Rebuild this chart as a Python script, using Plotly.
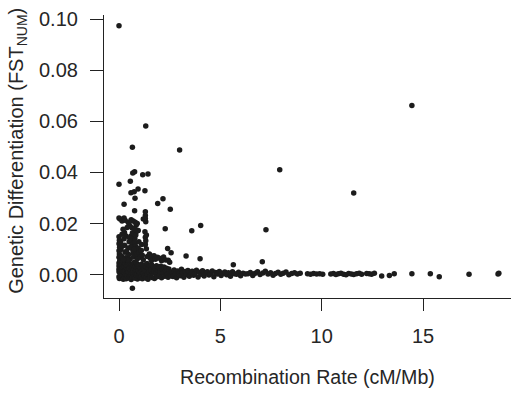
import plotly.graph_objects as go

# ---- data ----
# baseline blob, recombination rate 0 - 1 cM/Mb
base_a_x = [0.00,0.00,0.00,0.00,0.00,0.02,0.03,0.05,0.06,0.08,0.10,0.11,0.12,0.14,0.15,0.17,0.18,0.20,0.21,0.23,
            0.25,0.26,0.28,0.30,0.31,0.33,0.35,0.36,0.38,0.40,0.41,0.43,0.45,0.46,0.48,0.50,0.51,0.53,0.55,0.56,
            0.58,0.60,0.61,0.63,0.65,0.66,0.68,0.70,0.71,0.73,0.75,0.76,0.78,0.80,0.81,0.83,0.85,0.86,0.88,0.90,
            0.91,0.93,0.95,0.96,0.98,1.00,1.02,1.04]
base_a_y = [0.0012,-0.0008,0.0034,0.0046,0.0021,-0.0015,0.0025,0.0041,-0.0003,0.0018,
            0.0007,-0.0012,0.0039,0.0022,0.0004,-0.0006,0.0029,0.0013,-0.0018,0.0049,
            0.0009,0.0031,-0.0010,0.0016,0.0044,0.0002,-0.0016,0.0027,0.0037,0.0006,
            -0.0004,0.0020,0.0047,0.0011,-0.0013,0.0033,0.0024,-0.0007,0.0043,0.0015,
            0.0003,-0.0019,0.0036,0.0028,0.0008,-0.0011,0.0040,0.0017,0.0001,-0.0009,
            0.0048,0.0026,0.0010,-0.0014,0.0035,0.0019,-0.0002,0.0045,0.0030,0.0005,
            -0.0017,0.0023,0.0038,0.0014,-0.0005,0.0032,0.0008,-0.0012]

# baseline blob, 1 - 2.6 cM/Mb
base_b_x = [1.06,1.08,1.10,1.12,1.15,1.17,1.20,1.22,1.25,1.27,1.30,1.32,1.35,1.38,1.40,1.43,1.46,1.48,1.51,1.54,
            1.57,1.60,1.63,1.66,1.69,1.72,1.75,1.78,1.82,1.85,1.88,1.92,1.95,1.99,2.03,2.06,2.10,2.14,2.18,2.22,
            2.26,2.30,2.34,2.38,2.42,2.46,2.50,2.55]
base_b_y = [0.0027,-0.0009,0.0041,0.0013,-0.0016,0.0034,0.0006,0.0022,-0.0004,0.0038,
            0.0017,-0.0013,0.0029,0.0044,0.0003,-0.0018,0.0024,0.0011,0.0036,-0.0007,
            0.0019,0.0040,-0.0011,0.0008,0.0031,0.0015,-0.0015,0.0026,0.0004,0.0035,
            -0.0008,0.0018,0.0028,-0.0003,0.0012,0.0033,-0.0012,0.0021,0.0007,0.0030,
            -0.0006,0.0016,0.0025,0.0002,-0.0010,0.0022,0.0009,-0.0004]

# baseline band, 2.6 - 6.3 cM/Mb
base_c_x = [2.60,2.66,2.72,2.78,2.84,2.90,2.96,3.02,3.08,3.14,3.20,3.26,3.33,3.40,3.47,3.54,3.61,3.68,3.75,3.82,
            3.90,3.97,4.05,4.12,4.20,4.28,4.36,4.44,4.52,4.60,4.68,4.77,4.86,4.95,5.04,5.13,5.22,5.31,5.40,5.50,
            5.60,5.70,5.80,5.90,6.00,6.12,6.24]
base_c_y = [0.0011,-0.0007,0.0019,0.0003,-0.0012,0.0015,0.0006,-0.0004,0.0021,0.0009,
            -0.0010,0.0013,0.0001,0.0017,-0.0006,0.0008,0.0014,-0.0002,0.0005,0.0018,
            -0.0009,0.0010,0.0002,0.0016,-0.0005,0.0007,0.0012,-0.0001,0.0004,0.0015,
            -0.0008,0.0009,0.0003,0.0013,-0.0003,0.0006,0.0011,0.0000,0.0008,-0.0006,
            0.0012,0.0004,0.0002,0.0010,-0.0004,0.0006,0.0003]

# baseline band, 6.3 - 13.6 cM/Mb
base_d_x = [6.36,6.48,6.60,6.72,6.84,6.96,7.10,7.22,7.35,7.48,7.60,7.72,7.85,7.98,8.10,8.24,8.38,8.52,8.66,8.80,
            8.94,9.30,9.45,9.60,9.75,9.90,10.05,10.45,10.58,10.70,10.82,10.95,11.08,11.20,11.33,11.46,11.58,11.72,
            11.85,11.97,12.22,12.34,12.46,12.60,12.96,13.34,13.58]
base_d_y = [0.0004,0.0009,-0.0003,0.0006,0.0012,0.0001,0.0007,0.0014,0.0003,0.0008,
            -0.0002,0.0005,0.0010,0.0002,0.0006,0.0011,0.0000,0.0005,0.0008,0.0003,
            0.0006,0.0004,0.0002,0.0005,0.0003,0.0004,0.0002,0.0003,0.0005,0.0001,
            0.0004,0.0006,0.0002,0.0000,0.0005,0.0003,0.0001,0.0004,0.0006,0.0002,
            0.0005,0.0004,0.0002,0.0006,-0.0005,-0.0003,0.0004]

# sparse high recombination loci
base_e_x = [14.45,15.36,15.80,17.27,18.70,18.74]
base_e_y = [0.0004,0.0004,-0.0008,0.0002,0.0003,0.0006]

# moderately differentiated loci
mid_x = [0.00,0.02,0.00,0.03,0.00,0.02,0.00,0.04,0.08,0.10,0.12,0.25,0.28,0.30,0.33,0.27,0.45,0.50,0.48,0.55,
         0.42,0.60,0.62,0.65,0.68,0.70,0.72,0.66,0.78,0.80,0.82,0.85,0.88,0.90,0.83,0.95,1.00,1.05,0.98,1.10,
         1.15,1.20,1.30,1.32,1.30,1.35,1.40,1.50,1.55,1.60,1.65,1.73,1.80,1.90,2.00,2.10,2.20,2.30,2.43,2.50,
         1.28,1.35,0.35,0.15,0.90,2.40,2.57,3.31,4.00,5.64,7.07,0.18,0.38,0.58,0.75,1.12,0.52,0.22]
mid_y = [0.0149,0.0135,0.0121,0.0108,0.0094,0.0081,0.0068,0.0057,0.0128,0.0099,0.0073,0.0141,0.0115,0.0088,0.0066,0.0165,0.0105,0.0129,0.0079,0.0062,
         0.0058,0.0152,0.0137,0.0118,0.0097,0.0084,0.0069,0.0163,0.0143,0.0126,0.0111,0.0091,0.0075,0.0062,0.0155,0.0104,0.0087,0.0068,0.0129,0.0095,
         0.0076,0.0059,0.0147,0.0133,0.0118,0.0102,0.0071,0.0081,0.0064,0.0056,0.0072,0.0074,0.0061,0.0068,0.0064,0.0055,0.0069,0.0058,0.0057,0.0049,
         0.0168,0.0155,0.0152,0.0158,0.0171,0.0103,0.0086,0.0073,0.0063,0.0039,0.0051,0.0112,0.0093,0.0108,0.0100,0.0118,0.0145,0.0060]

# ~0.02 cluster
c20_x = [0.00,0.05,0.15,0.25,0.30,0.45,0.50,0.55,0.60,0.70,0.80,0.85,0.90,0.40,0.20,0.65,0.85,0.95,1.20,
         1.30,1.30,1.30,1.32,0.77,2.28,3.59,4.03]
c20_y = [0.0222,0.0218,0.0210,0.0222,0.0213,0.0205,0.0196,0.0190,0.0215,0.0210,0.0205,0.0195,0.0200,0.0185,0.0178,0.0183,0.0175,0.0173,0.0218,
         0.0246,0.0232,0.0220,0.0207,0.0179,0.0180,0.0172,0.0193]

# highly differentiated outliers
out_x = [0.00,1.32,0.66,2.99,0.77,0.68,1.17,1.43,0.00,0.56,0.59,0.75,0.94,1.28,0.79,2.17,0.25,1.91,2.53,0.77,
         14.45,7.93,11.58,7.25,0.66]
out_y = [0.0974,0.0582,0.0499,0.0488,0.0403,0.0398,0.0391,0.0394,0.0354,0.0366,0.0321,0.0325,0.0335,0.0329,0.0299,0.0297,0.0276,0.0279,0.0256,0.0250,
         0.0662,0.0411,0.0320,0.0176,-0.0053]

x_ticks = [0, 5, 10, 15]
y_ticks = [0.00, 0.02, 0.04, 0.06, 0.08, 0.10]
y_tick_labels = ["0.00", "0.02", "0.04", "0.06", "0.08", "0.10"]

rec_rate = base_a_x + base_b_x + base_c_x + base_d_x + base_e_x + mid_x + c20_x + out_x
fst_num = base_a_y + base_b_y + base_c_y + base_d_y + base_e_y + mid_y + c20_y + out_y

FONT = "Liberation Sans, Arial, Helvetica, sans-serif"
TXT = "#262626"
AX = "#222222"
FS = 20

fig = go.Figure(go.Scatter(
    x=rec_rate, y=fst_num, mode="markers",
    marker=dict(size=5.5, color="#1c1c1c", line=dict(width=0)),
    hoverinfo="skip", showlegend=False,
))

fig.update_layout(
    width=511, height=394,
    margin=dict(l=104, r=0, t=15, b=96),
    paper_bgcolor="white", plot_bgcolor="white",
    font=dict(family=FONT, color=TXT, size=FS),
    xaxis=dict(range=[-0.74, 19.34], showgrid=False, zeroline=False,
               showline=True, linecolor=AX, linewidth=1.2,
               ticks="outside", ticklen=12, tickwidth=1, tickcolor=AX,
               tickvals=x_ticks, tickfont=dict(size=FS, color=TXT),
               ticklabelstandoff=8),
    yaxis=dict(range=[-0.0091, 0.1016], showgrid=False, zeroline=False,
               showline=True, linecolor=AX, linewidth=1.2,
               ticks="outside", ticklen=13, tickwidth=1, tickcolor=AX,
               tickvals=y_ticks, ticktext=y_tick_labels,
               tickfont=dict(size=FS, color=TXT), ticklabelstandoff=8),
    annotations=[
        dict(text="Recombination Rate (cM/Mb)", xref="paper", yref="paper",
             x=0.5, y=-0.279, xanchor="center", yanchor="middle",
             showarrow=False, font=dict(size=19.6, color=TXT, family=FONT)),
        dict(text="Genetic Differentiation (FST<sub>NUM</sub>)", xref="paper", yref="paper",
             x=-0.2113, y=0.52, xanchor="center", yanchor="middle", textangle=-90,
             showarrow=False, font=dict(size=FS, color=TXT, family=FONT)),
    ],
)

fig.write_html("out.html")
